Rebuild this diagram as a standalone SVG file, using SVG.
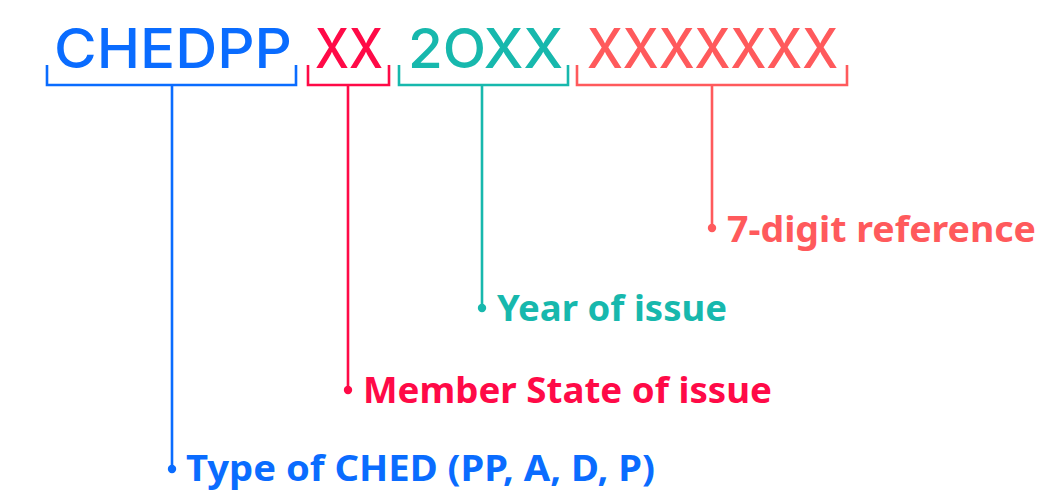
<svg xmlns="http://www.w3.org/2000/svg" width="1046" height="491" viewBox="0 0 1046 491">
  <style>
    .code { font-family: Inter, "Noto Sans", sans-serif; font-weight: 500; font-size: 55px; }
    .label { font-family: "Noto Sans", "Open Sans", sans-serif; font-weight: 700; font-size: 35px; }
    .bracket { fill: none; stroke-width: 2.6; stroke-linejoin: miter; }
    .blue { fill: #0a6cff; } .blue-s { stroke: #0a6cff; }
    .red { fill: #ff0a47; } .red-s { stroke: #ff0a47; }
    .teal { fill: #17b8ad; } .teal-s { stroke: #17b8ad; }
    .coral { fill: #ff5a5c; } .coral-s { stroke: #ff5a5c; }
  </style>

  <!-- code segments with their descriptions -->
  <g id="type">
    <text class="code blue" x="54" y="68" textLength="238" lengthAdjust="spacingAndGlyphs">CHEDPP</text>
    <text class="label blue" x="186" y="481" textLength="469" lengthAdjust="spacingAndGlyphs">Type of CHED (PP, A, D, P)</text>
  </g>
  <g id="member-state">
    <text class="code red" x="315" y="68" textLength="68" lengthAdjust="spacingAndGlyphs">XX</text>
    <text class="label red" x="363" y="403" textLength="409" lengthAdjust="spacingAndGlyphs">Member State of issue</text>
  </g>
  <g id="year">
    <text class="code teal" x="408" y="68" textLength="155" lengthAdjust="spacingAndGlyphs">2OXX</text>
    <text class="label teal" x="497" y="321" textLength="230" lengthAdjust="spacingAndGlyphs">Year of issue</text>
  </g>
  <g id="reference">
    <text class="code coral" x="587" y="68" textLength="251" lengthAdjust="spacingAndGlyphs">XXXXXXX</text>
    <text class="label coral" x="727" y="242" textLength="309" lengthAdjust="spacingAndGlyphs">7-digit reference</text>
  </g>

  <!-- brackets and leader lines -->
  <g id="connectors">
    <path class="bracket blue-s" d="M47 65 V85 H296 V65 M172 85 V469"/>
    <circle class="blue" cx="172" cy="469" r="4.2"/>
    <path class="bracket red-s" d="M308 65 V85 H389 V65 M348 85 V390"/>
    <circle class="red" cx="348" cy="390" r="4.2"/>
    <path class="bracket teal-s" d="M399 65 V85 H568 V65 M482 85 V308"/>
    <circle class="teal" cx="482" cy="308" r="4.2"/>
    <path class="bracket coral-s" d="M577 65 V85 H847 V65 M712 85 V228"/>
    <circle class="coral" cx="712" cy="228" r="4.2"/>
  </g>
</svg>
